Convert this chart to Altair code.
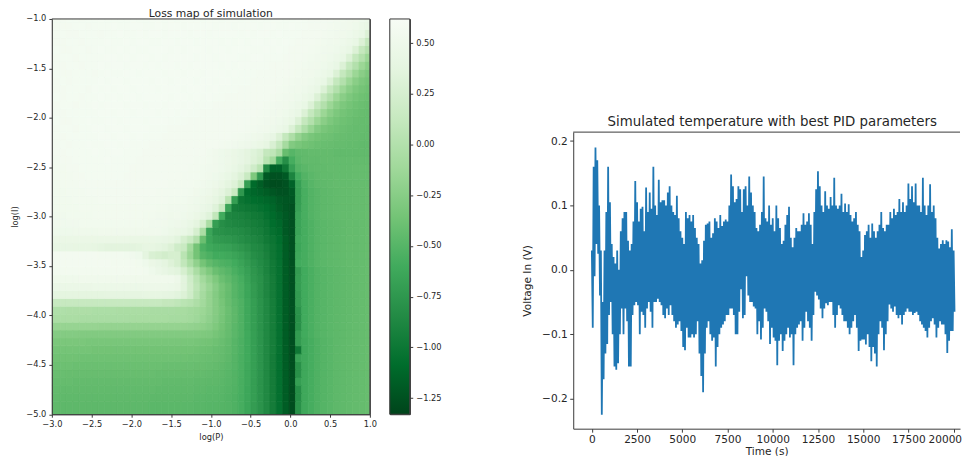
import altair as alt
import pandas as pd

# Loss map values in hundredths, one row per log(I) step, row_49 at the top.
row_49 = [56,56,57,57,56,57,57,58,57,57, 57,57,58,57,57,58,58,57,58,57, 58,58,58,57,58,58,57,58,58,57, 58,57,58,57,58,58,57,57,58,57, 56,56,56,56,55,54,53,52,50,47]
row_48 = [56,56,56,57,57,56,57,57,57,58, 57,57,58,58,57,57,58,57,58,58, 57,58,58,58,58,57,58,58,57,58, 58,58,57,58,58,57,57,58,57,57, 56,56,56,55,54,53,52,50,47,43]
row_47 = [56,57,56,56,57,57,57,56,57,57, 58,57,57,58,57,58,58,57,58,58, 58,57,58,58,57,58,58,58,58,57, 58,57,58,58,57,58,57,57,57,56, 56,56,55,54,53,52,50,47,43,30]
row_46 = [56,56,57,57,56,57,57,57,58,57, 57,58,57,58,58,57,57,58,58,57, 58,58,57,58,58,58,57,58,57,58, 57,58,58,57,58,57,58,57,56,56, 56,55,54,53,52,50,47,43,30,12]
row_45 = [57,56,56,57,57,56,57,58,57,57, 58,57,58,57,57,58,58,58,57,58, 57,58,58,58,57,58,58,57,58,58, 58,57,57,58,57,58,57,56,56,56, 55,54,53,52,50,47,43,30,12,0]
row_44 = [56,57,57,56,57,57,57,57,58,58, 57,58,57,58,58,57,58,57,58,58, 58,58,57,58,58,57,58,58,58,57, 57,58,58,57,57,57,56,56,56,55, 54,53,52,50,47,43,30,12,0,-14]
row_43 = [56,56,57,57,56,57,57,58,57,58, 58,57,58,58,57,58,57,58,58,57, 58,57,58,58,58,58,57,58,57,58, 58,57,57,57,56,56,56,56,55,54, 53,52,50,47,43,30,12,0,-14,-24]
row_42 = [57,56,56,57,57,57,56,57,58,57, 57,58,58,57,58,58,58,57,58,58, 57,58,58,57,58,58,58,57,58,57, 57,57,56,56,56,56,56,55,54,53, 52,50,47,43,30,12,0,-14,-24,-31]
row_41 = [56,57,56,57,57,57,57,58,57,58, 58,57,58,58,58,57,58,58,57,58, 58,58,57,58,58,57,58,58,57,57, 57,56,56,56,56,56,55,54,53,52, 50,47,43,30,12,0,-14,-24,-31,-35]
row_40 = [56,56,57,57,57,56,58,57,58,57, 58,58,57,58,58,58,57,58,58,58, 57,58,58,58,57,58,57,57,57,56, 56,56,56,56,56,55,54,53,52,50, 47,43,30,12,0,-14,-24,-31,-35,-38]
row_39 = [57,56,57,57,56,57,57,58,57,58, 57,58,58,57,58,58,58,58,57,58, 58,57,58,57,58,57,57,56,56,56, 56,56,56,56,55,54,53,52,50,47, 43,30,12,0,-14,-24,-31,-35,-38,-40]
row_38 = [56,57,57,56,57,57,58,57,58,58, 58,57,58,58,57,58,58,57,58,58, 57,58,57,57,57,56,56,56,56,56, 56,56,56,55,54,53,52,50,47,43, 30,12,0,-14,-24,-31,-35,-38,-40,-42]
row_37 = [56,56,57,57,57,57,57,58,58,57, 58,58,57,58,58,58,57,58,58,57, 58,57,57,56,56,56,56,56,56,56, 56,56,55,54,53,52,50,47,43,30, 12,0,-14,-24,-31,-35,-38,-40,-42,-43]
row_36 = [57,56,56,57,57,58,57,57,58,58, 57,58,58,58,57,58,58,58,57,57, 57,56,56,56,56,56,56,56,56,56, 56,55,54,53,52,50,47,43,30,12, 0,-14,-24,-31,-35,-38,-40,-42,-43,-43]
row_35 = [56,57,57,56,57,57,58,58,57,58, 58,57,58,58,58,57,57,57,56,56, 56,56,56,56,56,56,56,56,56,56, 55,54,53,52,50,47,43,30,12,-2, -16,-27,-33,-36,-38,-40,-42,-43,-43,-44]
row_34 = [56,56,57,57,57,57,57,58,58,57, 58,58,57,58,57,57,57,56,56,56, 56,56,56,56,56,56,56,56,55,54, 53,51,49,46,42,30,12,-3,-18,-27, -33,-36,-38,-39,-41,-42,-43,-43,-44,-44]
row_33 = [56,57,56,57,57,58,57,57,58,58, 57,58,57,57,57,56,56,56,56,56, 56,56,56,56,56,56,55,54,53,51, 49,47,44,40,28,12,-8,-28,-33,-36, -38,-40,-41,-42,-43,-43,-44,-44,-45,-45]
row_32 = [56,56,57,57,57,57,58,57,57,58, 58,57,57,57,56,56,56,56,56,56, 56,56,56,56,54,52,50,48,45,42, 38,33,28,12,8,-5,-42,-50,-46,-45, -44,-44,-44,-44,-45,-45,-45,-45,-45,-45]
row_31 = [55,56,56,57,57,57,57,57,58,57, 57,57,57,56,56,56,56,56,56,56, 56,56,55,55,54,52,50,48,45,42, 38,32,25,5,-10,-58,-82,-58,-48,-45, -45,-45,-44,-44,-44,-44,-44,-44,-44,-44]
row_30 = [55,55,56,56,57,57,57,57,57,57, 57,57,56,56,56,56,56,56,56,56, 56,55,55,54,53,52,50,47,43,38, 32,20,5,-85,-115,-115,-100,-68,-52,-48, -46,-45,-45,-44,-44,-44,-44,-43,-43,-43]
row_29 = [55,55,55,56,56,57,57,57,57,57, 57,56,56,56,56,56,56,56,56,56, 55,55,55,54,52,50,47,43,38,30, 15,-30,-75,-120,-125,-125,-120,-90,-60,-52, -48,-46,-45,-45,-44,-44,-44,-43,-43,-43]
row_28 = [54,55,55,55,56,56,56,56,56,56, 56,56,56,56,56,56,56,56,55,55, 55,55,54,53,50,48,44,38,32,15, -70,-110,-118,-125,-128,-128,-125,-115,-68,-55, -50,-47,-46,-45,-44,-44,-44,-43,-43,-43]
row_27 = [54,54,55,55,55,56,56,56,56,56, 56,56,56,56,56,56,55,55,55,55, 55,54,52,50,48,44,38,30,15,-75, -108,-112,-115,-118,-122,-125,-125,-120,-70,-57, -52,-49,-47,-46,-45,-44,-44,-43,-43,-42]
row_26 = [54,54,54,55,55,55,55,56,56,56, 56,56,56,56,55,55,55,55,54,54, 54,52,50,48,45,40,33,5,-70,-102, -105,-108,-110,-112,-115,-120,-122,-122,-70,-57, -52,-49,-47,-46,-45,-44,-44,-43,-43,-42]
row_25 = [54,54,54,54,55,55,55,55,55,55, 55,55,55,55,55,55,54,54,53,53, 53,51,49,46,42,33,15,-65,-95,-98, -100,-102,-105,-108,-112,-118,-122,-125,-68,-57, -52,-49,-47,-46,-45,-44,-44,-43,-43,-42]
row_24 = [53,53,54,54,54,54,55,55,55,55, 55,55,55,55,54,54,53,53,51,52, 50,48,45,40,33,10,-60,-88,-90,-92, -95,-98,-100,-105,-110,-115,-120,-125,-65,-57, -52,-49,-47,-46,-45,-44,-44,-43,-43,-42]
row_23 = [53,53,53,53,54,54,54,54,54,54, 54,54,54,54,54,53,53,52,50,49, 47,43,38,25,-5,-70,-82,-86,-88,-90, -92,-95,-98,-102,-108,-112,-120,-125,-65,-58, -54,-50,-48,-47,-46,-45,-44,-44,-43,-42]
row_22 = [50,50,50,51,51,51,51,52,52,52, 52,52,52,52,52,52,52,50,47,45, 43,38,25,-5,-65,-78,-80,-82,-83,-85, -88,-92,-95,-100,-105,-110,-120,-125,-65,-58, -54,-50,-48,-47,-46,-45,-44,-44,-43,-42]
row_21 = [45,45,45,45,45,45,45,45,45,45, 45,45,44,44,44,44,43,42,40,35, 25,15,0,-40,-65,-72,-74,-76,-78,-82, -85,-88,-92,-98,-102,-108,-118,-125,-62,-58, -54,-50,-48,-47,-46,-45,-44,-44,-43,-42]
row_20 = [42,42,42,41,41,41,40,38,36,36, 36,36,36,37,40,40,38,35,30,20, 15,-10,-35,-55,-62,-65,-67,-68,-72,-76, -80,-85,-88,-94,-100,-106,-118,-125,-64,-58, -54,-50,-48,-47,-46,-45,-44,-44,-43,-42]
row_19 = [56,56,56,56,56,56,56,55,55,55, 55,54,53,50,38,28,25,22,25,25, 5,-15,-35,-50,-55,-60,-60,-62,-65,-70, -75,-82,-86,-92,-100,-106,-118,-125,-62,-58, -54,-50,-48,-47,-46,-45,-44,-44,-43,-42]
row_18 = [56,56,56,56,56,56,56,56,56,55, 55,55,55,54,50,45,42,38,32,25, 10,-5,-20,-35,-45,-50,-54,-56,-60,-66, -72,-78,-84,-90,-98,-105,-118,-125,-60,-58, -54,-50,-48,-47,-46,-45,-44,-44,-43,-42]
row_17 = [55,55,55,55,55,55,55,55,55,55, 55,55,55,55,54,50,46,42,38,35, 25,10,-5,-20,-30,-40,-46,-50,-56,-62, -68,-76,-82,-90,-98,-105,-118,-125,-72,-60, -56,-52,-50,-48,-47,-46,-45,-44,-43,-42]
row_16 = [51,51,51,51,52,52,52,52,52,52, 52,52,52,52,52,52,52,52,52,48, 35,20,5,-10,-20,-30,-40,-46,-52,-58, -66,-74,-80,-88,-96,-105,-118,-125,-70,-60, -56,-52,-50,-48,-47,-46,-45,-44,-43,-42]
row_15 = [46,46,46,46,46,46,47,47,47,47, 47,47,47,47,48,48,48,48,47,45, 35,22,8,-5,-15,-25,-35,-42,-50,-56, -64,-72,-80,-88,-96,-105,-118,-125,-70,-60, -56,-52,-50,-48,-47,-46,-45,-44,-43,-42]
row_14 = [38,38,38,38,38,38,38,38,39,39, 39,39,39,39,40,40,40,39,38,35, 30,20,5,-8,-18,-27,-36,-43,-50,-56, -64,-72,-80,-88,-96,-105,-118,-125,-72,-60, -56,-52,-50,-48,-47,-46,-45,-44,-43,-42]
row_13 = [13,13,13,13,13,13,13,13,13,13, 13,13,13,13,13,13,13,11,11,9, 5,2,-3,-10,-18,-26,-34,-42,-48,-54, -62,-70,-78,-86,-95,-105,-118,-125,-72,-60, -56,-52,-50,-48,-47,-46,-45,-44,-43,-42]
row_12 = [-2,-2,-3,-3,-3,-3,-4,-4,-4,-4, -5,-5,-5,-5,-5,-6,-6,-6,-6,-7, -7,-9,-11,-14,-19,-26,-33,-40,-47,-54, -62,-70,-78,-86,-95,-105,-118,-125,-78,-60, -56,-52,-50,-48,-47,-46,-45,-44,-43,-42]
row_11 = [-5,-5,-5,-5,-6,-6,-6,-6,-6,-6, -6,-6,-7,-7,-7,-7,-7,-7,-8,-8, -8,-10,-12,-16,-21,-27,-34,-41,-47,-54, -62,-70,-78,-86,-95,-105,-118,-126,-80,-60, -56,-52,-50,-48,-47,-46,-45,-44,-43,-42]
row_10 = [-17,-17,-17,-17,-17,-17,-17,-18,-18,-18, -18,-18,-18,-18,-18,-18,-18,-18,-18,-18, -18,-19,-20,-22,-25,-30,-36,-42,-48,-54, -62,-70,-78,-86,-95,-105,-118,-126,-80,-60, -56,-52,-50,-48,-47,-46,-45,-44,-43,-42]
row_09 = [-27,-27,-27,-27,-28,-28,-28,-28,-28,-28, -28,-28,-28,-28,-28,-28,-28,-28,-28,-28, -28,-28,-29,-30,-31,-34,-38,-43,-48,-54, -61,-69,-77,-86,-95,-105,-118,-126,-72,-60, -56,-52,-50,-48,-47,-46,-45,-44,-43,-42]
row_08 = [-32,-32,-32,-32,-32,-33,-33,-33,-33,-33, -33,-33,-33,-33,-33,-33,-33,-33,-33,-33, -33,-33,-34,-35,-36,-38,-41,-45,-50,-55, -61,-69,-77,-86,-95,-105,-118,-126,-72,-62, -58,-54,-51,-49,-47,-46,-45,-44,-43,-42]
row_07 = [-35,-35,-35,-35,-35,-35,-36,-36,-36,-36, -36,-36,-36,-36,-36,-36,-36,-36,-36,-36, -36,-36,-37,-38,-39,-41,-43,-46,-50,-55, -61,-69,-77,-86,-95,-105,-118,-127,-100,-62, -58,-54,-51,-49,-47,-46,-45,-44,-43,-42]
row_06 = [-37,-37,-37,-37,-38,-38,-38,-38,-38,-38, -38,-38,-38,-38,-38,-38,-38,-38,-38,-38, -38,-39,-39,-40,-41,-42,-44,-47,-51,-56, -61,-69,-77,-86,-96,-106,-118,-127,-68,-62, -58,-54,-51,-49,-47,-46,-45,-44,-43,-42]
row_05 = [-39,-39,-39,-40,-40,-40,-40,-40,-40,-40, -40,-40,-40,-40,-40,-40,-40,-41,-41,-41, -41,-41,-42,-42,-43,-44,-46,-48,-51,-56, -62,-69,-77,-86,-96,-106,-118,-127,-80,-62, -58,-54,-51,-49,-47,-46,-45,-44,-43,-42]
row_04 = [-41,-41,-42,-42,-42,-42,-42,-42,-42,-42, -42,-42,-42,-42,-42,-42,-43,-43,-43,-43, -43,-43,-44,-44,-45,-46,-47,-49,-52,-56, -62,-69,-77,-86,-96,-106,-118,-127,-80,-62, -58,-54,-51,-49,-47,-46,-45,-44,-43,-42]
row_03 = [-43,-43,-43,-44,-44,-44,-44,-44,-44,-44, -44,-44,-44,-44,-44,-44,-44,-45,-45,-45, -45,-45,-46,-46,-47,-47,-48,-50,-52,-57, -62,-70,-78,-86,-96,-106,-118,-127,-70,-62, -58,-54,-51,-49,-47,-46,-45,-44,-43,-42]
row_02 = [-44,-45,-45,-45,-45,-45,-45,-45,-45,-45, -45,-45,-45,-45,-45,-45,-46,-46,-46,-46, -46,-46,-47,-47,-48,-48,-49,-51,-53,-57, -63,-70,-78,-86,-96,-106,-118,-128,-82,-62, -58,-54,-51,-49,-47,-46,-45,-44,-43,-42]
row_01 = [-45,-46,-46,-46,-46,-46,-46,-46,-46,-46, -46,-46,-46,-46,-46,-47,-47,-47,-47,-47, -47,-47,-48,-48,-49,-49,-50,-52,-54,-58, -63,-70,-78,-86,-96,-106,-118,-128,-82,-62, -58,-54,-51,-49,-47,-46,-45,-44,-43,-42]
row_00 = [-46,-47,-47,-47,-47,-47,-47,-47,-47,-47, -47,-47,-47,-47,-47,-48,-48,-48,-48,-48, -48,-48,-49,-49,-50,-50,-51,-52,-54,-58, -64,-71,-78,-86,-96,-106,-118,-128,-80,-62, -58,-54,-51,-49,-47,-46,-45,-44,-43,-42]

green_stops = [-1.33, -1.086, -0.843, -0.599, -0.355, -0.111, 0.133, 0.376, 0.62]
green_colors = ["#00441b", "#006d2c", "#238b45", "#41ab5d", "#74c476", "#a1d99b", "#c7e9c0", "#e5f5e0", "#f7fcf5"]
colorbar_ticks = [-1.25, -1.0, -0.75, -0.5, -0.25, 0.0, 0.25, 0.5]
log_p_ticks = [-3.0, -2.5, -2.0, -1.5, -1.0, -0.5, 0.0, 0.5, 1.0]
log_i_ticks = [-5.0, -4.5, -4.0, -3.5, -3.0, -2.5, -2.0, -1.5, -1.0]

# Envelope of the voltage trace, one reading per 100 s.
voltage_high = [
    .03,.16,.19,.17,.10,.03,-.05,.03,.09,.16,
    .105,.04,.02,.01,.03,.0,.06,.08,.09,.09,
    .045,.03,.04,.075,.138,.105,.075,.095,.098,.06,
    .128,.09,.12,.095,.16,.10,.085,.14,.105,.108,
    .108,.10,.12,.13,.10,.09,.085,.115,.08,.06,
    .05,.04,.09,.08,.085,.075,.085,.065,.05,.04,
    .01,.015,.045,.07,.072,.075,.05,.057,.08,.075,
    .065,.085,.068,.075,.078,.075,.10,.148,.13,.105,
    .11,.13,.125,.09,.125,.13,.10,.145,.12,.10,
    .09,.065,.06,.07,.09,.145,.08,.075,.10,.07,
    .08,.06,.10,.08,.065,.04,.045,.07,.085,.098,
    .05,.035,.05,.065,.06,.06,.07,.088,.07,.075,
    .088,.07,.04,.09,.125,.153,.13,.10,.09,.122,
    .10,.095,.113,.10,.143,.10,.095,.10,.118,.09,
    .103,.09,.102,.085,.075,.08,.09,.07,.06,.02,
    .03,.054,.06,.07,.05,.072,.06,.05,.06,.07,
    .09,.065,.06,.07,.07,.09,.08,.095,.085,.09,
    .11,.09,.105,.09,.10,.134,.11,.13,.105,.134,
    .10,.10,.09,.143,.10,.085,.10,.133,.09,.10,
    .08,.05,.033,.04,.046,.04,.046,.044,.035,.063,
    .03]
voltage_low = [
    -.09,-.01,.04,.025,-.04,-.225,-.17,-.13,-.115,-.07,
    -.05,-.10,-.15,-.155,-.145,-.10,-.06,-.10,-.06,-.08,
    -.15,-.15,-.07,-.055,-.05,-.055,-.10,-.065,-.07,-.09,
    -.06,-.05,-.065,-.09,-.05,-.05,-.045,-.05,-.055,-.07,
    -.075,-.06,-.07,-.055,-.07,-.08,-.09,-.085,-.08,-.095,
    -.12,-.125,-.09,-.105,-.105,-.10,-.105,-.10,-.08,-.13,
    -.165,-.19,-.13,-.09,-.08,-.10,-.11,-.105,-.15,-.12,
    -.10,-.09,-.085,-.08,-.07,-.07,-.06,-.06,-.07,-.10,
    -.10,-.065,-.03,-.075,-.07,-.01,-.04,-.05,-.05,-.057,
    -.06,-.10,-.08,-.108,-.09,-.06,-.065,-.08,-.115,-.09,
    -.105,-.11,-.148,-.11,-.10,-.126,-.11,-.10,-.09,-.105,
    -.10,-.148,-.10,-.09,-.085,-.08,-.11,-.09,-.065,-.08,
    -.09,-.11,-.07,-.034,-.04,-.046,-.06,-.075,-.06,-.052,
    -.055,-.05,-.05,-.07,-.09,-.07,-.055,-.06,-.07,-.08,
    -.08,-.09,-.10,-.09,-.08,-.07,-.09,-.126,-.11,-.108,
    -.108,-.116,-.10,-.12,-.142,-.12,-.13,-.15,-.10,-.08,
    -.09,-.125,-.10,-.08,-.054,-.06,-.065,-.057,-.07,-.075,
    -.07,-.085,-.07,-.065,-.06,-.065,-.065,-.07,-.067,-.065,
    -.07,-.08,-.085,-.09,-.095,-.105,-.09,-.08,-.075,-.085,
    -.105,-.09,-.08,-.085,-.085,-.10,-.129,-.11,-.095,-.095,
    -.065]
time_ticks = [0, 2500, 5000, 7500, 10000, 12500, 15000, 17500, 20000]
voltage_ticks = [-0.2, -0.1, 0.0, 0.1, 0.2]

TEXT = "#262626"
SPINE = "#3a3a3a"
FONT = "DejaVu Sans"

ROW_SHIFT = 0.65
COL_SHIFT = 0.30
DY = 0.08
DX = 0.08


def col_edge(n):
    if n <= 0:
        return -3.0
    if n >= 50:
        return 1.0
    return -3.0 + DX * (n + COL_SHIFT)


def row_edge(n):
    if n <= 0:
        return -5.0
    if n >= 50:
        return -1.0
    return -5.0 + DY * (n + ROW_SHIFT)


records = []
for j in range(50):
    row = globals()[f"row_{j:02d}"]
    assert len(row) == 50, j
    for k, v in enumerate(row):
        records.append({"x": col_edge(k), "x2": col_edge(k + 1),
                        "y": row_edge(j), "y2": row_edge(j + 1), "v": v / 100})
heat_df = pd.DataFrame(records)

green_scale = alt.Scale(domain=green_stops, range=green_colors, clamp=True)
one = pd.DataFrame({"a": [0]})

small_axis = dict(labelFont=FONT, titleFont=FONT, labelFontSize=8.3, titleFontSize=8.3,
                  titleFontWeight="normal", labelFlush=False, labelOverlap=False, zindex=1,
                  labelColor=TEXT, titleColor=TEXT, domainColor=SPINE, tickColor=SPINE,
                  tickSize=3, grid=False, format=".1f")

HEAT_W = 319
HEAT_H = 396.5

heat_cells = alt.Chart(heat_df).mark_rect(strokeWidth=0.8, clip=True).encode(
    x=alt.X("x:Q", scale=alt.Scale(domain=[-3, 1], nice=False, zero=False),
            axis=alt.Axis(title="log(P)", values=log_p_ticks, labelPadding=2.5, titlePadding=5, **small_axis)),
    x2="x2:Q",
    y=alt.Y("y:Q", scale=alt.Scale(domain=[-5, -1], nice=False, zero=False),
            axis=alt.Axis(title="log(I)", values=log_i_ticks, labelPadding=3, titlePadding=6, **small_axis)),
    y2="y2:Q",
    color=alt.Color("v:Q", scale=green_scale, legend=None),
    stroke=alt.Stroke("v:Q", scale=green_scale, legend=None),
)
heat_top = alt.Chart(one).mark_rule(color=SPINE, strokeWidth=1).encode(
    x=alt.value(0), x2=alt.value(HEAT_W), y=alt.value(0))
heat_right = alt.Chart(one).mark_rule(color=SPINE, strokeWidth=1).encode(
    x=alt.value(HEAT_W), y=alt.value(0), y2=alt.value(HEAT_H))
heat_title = alt.Chart(one).mark_text(
    text="Loss map of simulation", font=FONT, fontSize=10.8, color=TEXT, align="center", baseline="alphabetic"
).encode(x=alt.value(HEAT_W / 2), y=alt.value(-2))
heat = alt.layer(heat_cells, heat_top, heat_right, heat_title).properties(width=HEAT_W, height=HEAT_H)

gradient = alt.Gradient(
    gradient="linear", x1=0, x2=0, y1=1, y2=0,
    stops=[alt.GradientStop(color=c, offset=i / 8) for i, c in enumerate(green_colors)],
)
colorbar = alt.Chart(pd.DataFrame({"lo": [green_stops[0]], "hi": [green_stops[-1]]})).mark_rect(
    color=gradient, stroke=SPINE, strokeWidth=1
).encode(
    y=alt.Y("lo:Q", scale=alt.Scale(domain=[green_stops[0], green_stops[-1]], nice=False, zero=False),
            axis=alt.Axis(title=None, orient="right", values=colorbar_ticks, labelFont=FONT,
                          labelFontSize=8.3, labelColor=TEXT, domainColor=SPINE, tickColor=SPINE,
                          tickSize=3, grid=False, format=".2f", labelPadding=3, labelFlush=False)),
    y2="hi:Q",
).properties(width=20, height=HEAT_H)

spacer = alt.Chart(one).mark_point(opacity=0).encode(
    x=alt.value(0), y=alt.value(0)
).properties(width=123.3, height=HEAT_H, view=alt.ViewConfig(stroke=None))

trace = []
for i, (hi, lo) in enumerate(zip(voltage_high, voltage_low)):
    trace.append({"t": i * 100, "v": hi, "o": 2 * i})
    trace.append({"t": i * 100 + 50, "v": lo, "o": 2 * i + 1})
trace_df = pd.DataFrame(trace)

RIGHT_H = 411
RIGHT_TOP = 113.5
RIGHT_W = 388

big_axis = dict(labelFont=FONT, titleFont=FONT, labelFontSize=10.6, titleFontSize=10.6,
                titleFontWeight="normal", labelOverlap=False,
                labelColor=TEXT, titleColor=TEXT, domainColor=SPINE, tickColor=SPINE,
                tickSize=3.5, grid=False, labelPadding=2.5)

line = alt.Chart(trace_df).mark_line(color="#1f77b4", strokeWidth=1.8, strokeJoin="miter", clip=True).encode(
    x=alt.X("t:Q", scale=alt.Scale(domain=[-1030, 20353], nice=False, zero=False),
            axis=alt.Axis(title="Time (s)", values=time_ticks, format="d", labelFlush=8, labelFlushOffset=8,
                          titlePadding=1, **big_axis)),
    y=alt.Y("v:Q", scale=alt.Scale(domain=[-0.2467, 0.2139], range=[RIGHT_H, RIGHT_TOP], nice=False, zero=False),
            axis=alt.Axis(title="Voltage In (V)", values=voltage_ticks, format=".1f", labelFlush=False,
                          titlePadding=9, **big_axis)),
    order="o:Q",
)
top_spine = alt.Chart(one).mark_rule(color=SPINE, strokeWidth=1).encode(
    x=alt.value(0), x2=alt.value(RIGHT_W), y=alt.value(RIGHT_TOP),
)
right_title = alt.Chart(one).mark_text(
    text="Simulated temperature with best PID parameters", font=FONT, fontSize=13.4, color=TEXT,
    align="center", baseline="alphabetic"
).encode(x=alt.value(199.7), y=alt.value(RIGHT_TOP - 6))
right = alt.layer(line, top_spine, right_title).properties(
    width=RIGHT_W, height=RIGHT_H, view=alt.ViewConfig(stroke=None),
)

chart = alt.hconcat(heat, colorbar, spacer, right, spacing=20, bounds="flush").properties(
    padding={"left": 2, "top": -1.7, "right": 0, "bottom": -2},
).configure_view(stroke=SPINE, strokeWidth=1)

chart.save("out.html", embed_options={"renderer": "svg", "actions": False})
